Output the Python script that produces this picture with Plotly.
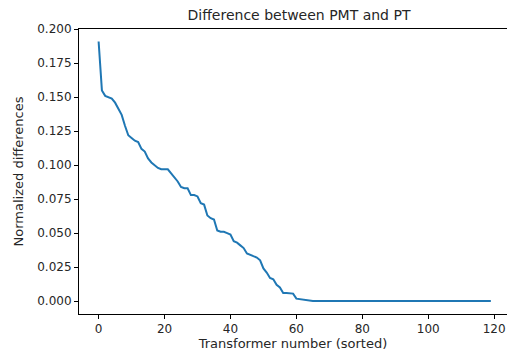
import plotly.graph_objects as go

# transformer index (sorted) and normalized PMT/PT differences
transformer = list(range(120))
differences = [
    0.191, 0.155, 0.151, 0.150, 0.149, 0.146, 0.142, 0.137, 0.129, 0.122,
    0.120, 0.118, 0.117, 0.112, 0.110, 0.105, 0.102, 0.100, 0.098, 0.097,
    0.097, 0.097, 0.094, 0.091, 0.088, 0.084, 0.083, 0.083, 0.078, 0.078,
    0.077, 0.072, 0.071, 0.063, 0.061, 0.060, 0.052, 0.051, 0.051, 0.050,
    0.049, 0.044, 0.043, 0.041, 0.039, 0.035, 0.034, 0.033, 0.032, 0.030,
    0.024, 0.021, 0.017, 0.016, 0.012, 0.010, 0.006, 0.006, 0.006, 0.0055,
    0.0018, 0.0014, 0.0010, 0.0004,
] + [0.0] * 56

x_ticks = [0, 20, 40, 60, 80, 100, 120]
y_ticks = [0.0, 0.025, 0.05, 0.075, 0.1, 0.125, 0.15, 0.175, 0.2]

fonte = dict(family='DejaVu Sans', size=12, color='#262626')
fonte_titulo_eixo = dict(family='DejaVu Sans', size=13, color='#262626')

# a pagina tem 8px de margem no body, por isso a figura e deslocada
W, H = 507, 348

fig = go.Figure()
fig.add_trace(go.Scatter(
    x=transformer,
    y=differences,
    mode='lines',
    line=dict(color='#1f77b4', width=2),
    hoverinfo='x+y'
))

fig.update_layout(
    width=W,
    height=H,
    title=dict(
        text='Difference between PMT and PT',
        x=291 / W,
        xanchor='center',
        y=1 - 7.5 / H,
        yanchor='middle',
        font=dict(family='DejaVu Sans', size=14, color='#262626')
    ),
    margin=dict(l=71, r=8, t=21, b=42),
    paper_bgcolor='white',
    plot_bgcolor='white',
    showlegend=False,
    font=fonte,
    xaxis=dict(
        range=[-5.95, 123.9],
        tickvals=x_ticks,
        ticks='outside',
        ticklen=4,
        tickcolor='#000',
        ticklabeloverflow='allow',
        showline=True,
        linecolor='#000',
        linewidth=1,
        mirror=True,
        showgrid=False,
        zeroline=False,
        automargin=False,
        title=dict(text='Transformer number (sorted)', standoff=2, font=fonte_titulo_eixo)
    ),
    yaxis=dict(
        range=[-0.0095, 0.2002],
        tickvals=y_ticks,
        tickformat='.3f',
        ticks='outside',
        ticklen=4,
        tickcolor='#000',
        showline=True,
        linecolor='#000',
        linewidth=1,
        showgrid=False,
        zeroline=False,
        automargin=False,
        title=dict(text='Normalized differences', standoff=10, font=fonte_titulo_eixo)
    )
)

fig.write_html("out.html")
